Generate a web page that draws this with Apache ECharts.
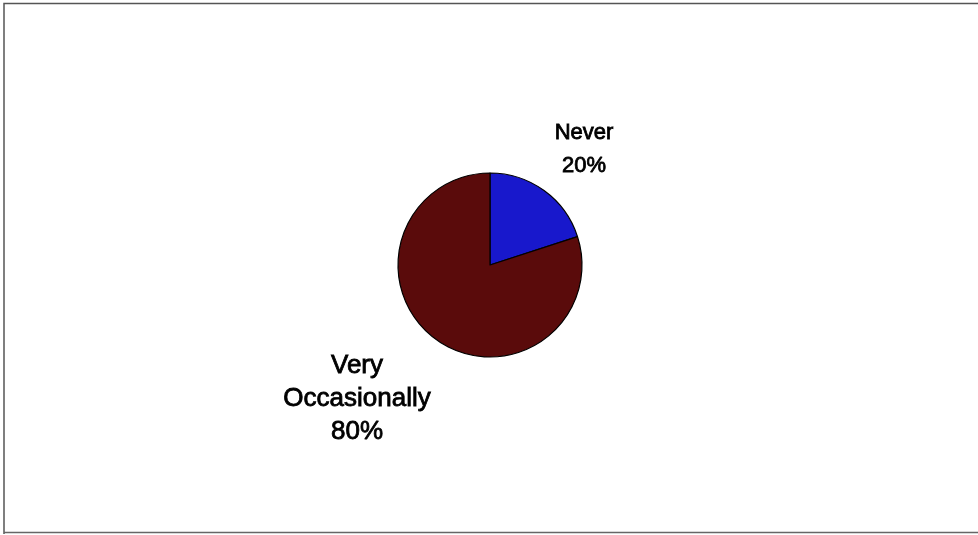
<!DOCTYPE html>
<html>
<head>
<meta charset="utf-8">
<script src="https://cdn.jsdelivr.net/npm/echarts@6/dist/echarts.min.js"></script>
<style>html,body{margin:0;padding:0;background:#fff;}#c{width:978px;height:535px;}</style>
</head>
<body>
<div id="c"></div>
<script>
var categories = ['Never', 'Very\nOccasionally'];
var values = [20, 80];
var colors = ['#1818CC', '#5A0B0B'];
var labelPos = [[584, 149], [357, 399]];
var labelSizes = [22, 26];

var chart = echarts.init(document.getElementById('c'), null, {renderer: 'canvas'});
chart.setOption({
  animation: false,
  backgroundColor: '#fff',
  graphic: [
    {type: 'polyline', shape: {points: [[4, 534], [4, 3.5], [978, 3.5]]}, style: {stroke: '#555', lineWidth: 1.5, fill: null}},
    {type: 'line', shape: {x1: 4, y1: 532.5, x2: 978, y2: 532.5}, style: {stroke: '#666', lineWidth: 1.5}}
  ],
  series: [{
    type: 'pie',
    center: [490, 265],
    radius: 92,
    startAngle: 90,
    clockwise: true,
    itemStyle: {borderColor: '#000', borderWidth: 1.2},
    label: {
      show: true,
      formatter: function (p) { return p.name + '\n' + p.value + '%'; },
      fontFamily: 'Liberation Sans, Arial, sans-serif',
      fontSize: 22,
      lineHeight: 33,
      color: '#000',
      textBorderColor: '#000',
      textBorderWidth: 0.8,
      align: 'center'
    },
    labelLine: {show: false},
    labelLayout: function (p) {
      var pos = labelPos[p.dataIndex];
      return {x: pos[0], y: pos[1], align: 'center', verticalAlign: 'middle'};
    },
    emphasis: {disabled: true},
    data: categories.map(function (c, i) {
      return {name: c, value: values[i], itemStyle: {color: colors[i]}, label: {fontSize: labelSizes[i]}};
    })
  }]
});
</script>
</body>
</html>
